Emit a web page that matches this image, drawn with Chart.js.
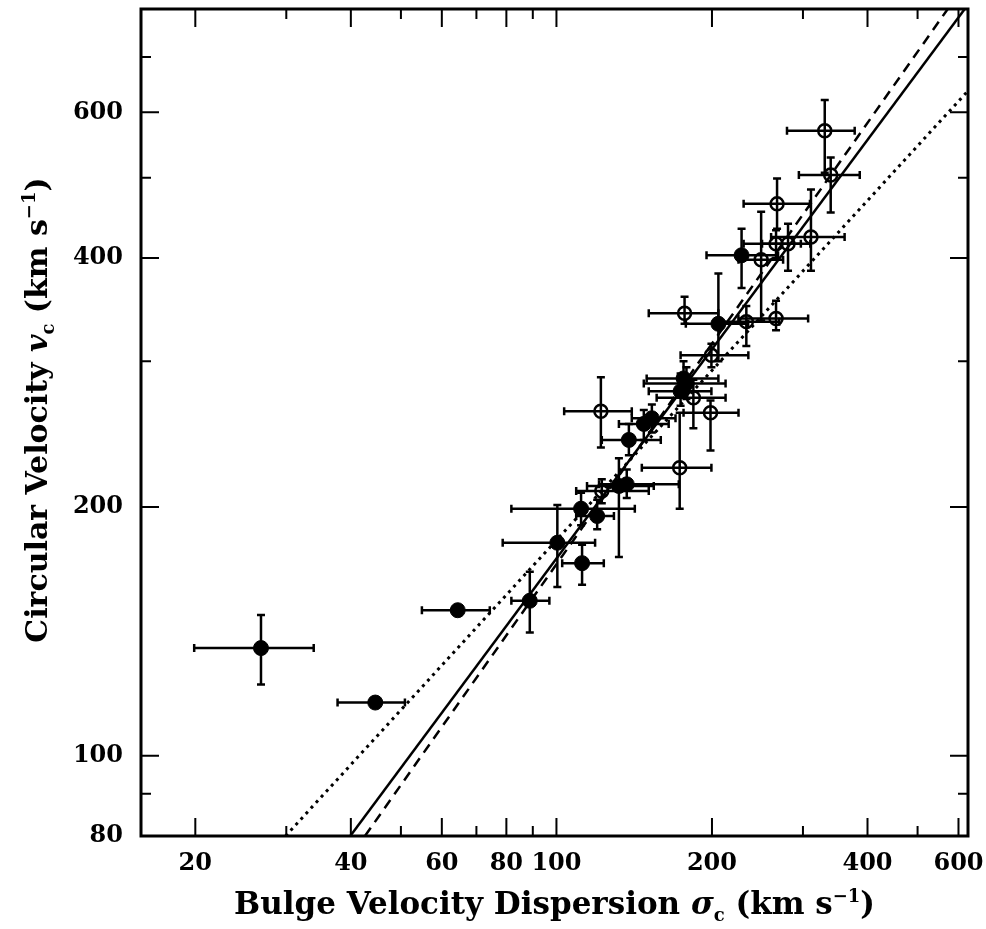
<!DOCTYPE html>
<html lang="en">
<head>
<meta charset="UTF-8">
<title>Circular Velocity vs Bulge Velocity Dispersion</title>
<script src="https://cdn.jsdelivr.net/npm/chart.js"></script>
<style>
  html, body { margin: 0; padding: 0; background: #fff; }
</style>
</head>
<body>
<canvas id="vcChart" width="986" height="929"></canvas>
<script>
// filled circles: sigma, v_c and their error bar ends (km/s)
var filledSigma   = [26.8, 44.6, 64.4, 88.8, 100.4, 112.1, 111.6, 119.9, 132.1, 136.8, 138.1, 147.6, 153.0, 176.2, 178.5, 173.9, 205.8, 228.2];
var filledV       = [135, 116, 150, 154, 181, 171, 199, 195, 212, 213, 241, 252, 256, 286, 282, 276, 333, 403];
var filledSigmaLo = [19.9, 37.7, 54.9, 81.8, 78.7, 102.6, 81.8, 109.2, 114.6, 120.9, 122.4, 132.1, 139.9, 149.5, 147.6, 150.9, 178, 195.2];
var filledSigmaHi = [33.9, 50.9, 74.3, 96.9, 118.8, 123.5, 141.8, 129.2, 154.3, 172.5, 159.2, 164.9, 170, 205.8, 212.5, 199.5, 235, 268.5];
var filledVLo     = [122, null, null, 141, 160, 161, 190, 188, 174, 205, 231, 241, 246, 274, 270, 265, 300, 368];
var filledVHi     = [148, null, null, 167, 201, 180, 208, 204, 229, 222, 252, 262, 266, 300, 295, 290, 383, 434];

// open circles
var openSigma   = [330.6, 339.5, 267.3, 310.9, 266.1, 280.7, 249.0, 177.0, 233.1, 266.1, 199.5, 184.1, 198.7, 121.9, 173.2, 122.4];
var openV       = [570, 504, 465, 424, 416, 416, 398, 343, 335, 338, 305, 271, 260, 261, 223, 209];
var openSigmaLo = [279.4, 294.6, 230.3, 260.3, 230.3, 250, 225.1, 150.9, 205, 225, 173.9, 156.3, 176.2, 103.5, 146.3, 109.2];
var openSigmaHi = [377.8, 386.4, 309.5, 361.2, 297.2, 310, 274.6, 205.8, 270, 307, 235.2, 212.5, 225.1, 139.9, 199.5, 150.9];
var openVLo     = [507, 454, 434, 386, 400, 386, 336, 333, 313, 327, 295, 249, 234, 236, 199, 202];
var openVHi     = [621, 529, 499, 484, 432, 440, 455, 359, 350, 355, 315, 285, 269, 287, 260, 216];

// fitted relations, read where they cross the frame
var solidFitSigma  = [39.9, 617];
var solidFitV      = [80, 800];
var dashedFitSigma = [42.6, 572];
var dashedFitV     = [80, 800];
var dottedFitSigma = [29.9, 626];
var dottedFitV     = [80, 637];

// axes
var xTickValues = [20, 30, 40, 50, 60, 70, 80, 90, 100, 200, 300, 400, 500, 600];
var xTickLabels = [20, 40, 60, 80, 100, 200, 400, 600];
var yTickValues = [80, 90, 100, 200, 300, 400, 500, 600, 700];
var yTickLabels = [80, 100, 200, 400, 600];

var serif = "'DejaVu Serif', 'Liberation Serif', serif";

function pts(xs, ys) {
    return xs.map(function(x, i) { return { x: x, y: ys[i] }; });
}

function drawRich(ctx, parts, cx, cy) {
    var total = 0;
    parts.forEach(function(p) {
        ctx.font = p.font;
        p.w = ctx.measureText(p.text).width;
        total += p.w;
    });
    var x = cx - total / 2;
    ctx.textAlign = 'left';
    ctx.textBaseline = 'alphabetic';
    parts.forEach(function(p) {
        ctx.font = p.font;
        ctx.fillText(p.text, x, cy + (p.dy || 0));
        x += p.w;
    });
}

var errorBars = {
    id: 'errorBars',
    beforeDatasetsDraw: function(chart) {
        var ctx = chart.ctx, xs = chart.scales.x, ys = chart.scales.y, a = chart.chartArea;
        var cap = 4;
        ctx.save();
        ctx.beginPath();
        ctx.rect(a.left, a.top, a.right - a.left, a.bottom - a.top);
        ctx.clip();
        ctx.strokeStyle = '#000';
        ctx.lineWidth = 2.5;
        [[filledSigma, filledV, filledSigmaLo, filledSigmaHi, filledVLo, filledVHi],
         [openSigma, openV, openSigmaLo, openSigmaHi, openVLo, openVHi]].forEach(function(s) {
            s[0].forEach(function(sig, i) {
                var px = xs.getPixelForValue(sig), py = ys.getPixelForValue(s[1][i]);
                ctx.beginPath();
                if (s[2][i] != null) {
                    var x1 = xs.getPixelForValue(s[2][i]), x2 = xs.getPixelForValue(s[3][i]);
                    ctx.moveTo(x1, py); ctx.lineTo(x2, py);
                    ctx.moveTo(x1, py - cap); ctx.lineTo(x1, py + cap);
                    ctx.moveTo(x2, py - cap); ctx.lineTo(x2, py + cap);
                }
                if (s[4][i] != null) {
                    var y1 = ys.getPixelForValue(s[4][i]), y2 = ys.getPixelForValue(s[5][i]);
                    ctx.moveTo(px, y1); ctx.lineTo(px, y2);
                    ctx.moveTo(px - cap, y1); ctx.lineTo(px + cap, y1);
                    ctx.moveTo(px - cap, y2); ctx.lineTo(px + cap, y2);
                }
                ctx.stroke();
            });
        });
        ctx.restore();
    }
};

var frame = {
    id: 'frame',
    afterDraw: function(chart) {
        var ctx = chart.ctx, xs = chart.scales.x, ys = chart.scales.y, a = chart.chartArea;
        ctx.save();
        ctx.strokeStyle = '#000';
        ctx.fillStyle = '#000';
        ctx.lineWidth = 2;
        ctx.beginPath();
        xTickValues.forEach(function(v) {
            var px = xs.getPixelForValue(v);
            var len = xTickLabels.indexOf(v) >= 0 ? 18 : 10;
            ctx.moveTo(px, a.bottom); ctx.lineTo(px, a.bottom - len);
            ctx.moveTo(px, a.top); ctx.lineTo(px, a.top + len);
        });
        yTickValues.forEach(function(v) {
            var py = ys.getPixelForValue(v);
            var len = yTickLabels.indexOf(v) >= 0 ? 18 : 10;
            ctx.moveTo(a.left, py); ctx.lineTo(a.left + len, py);
            ctx.moveTo(a.right, py); ctx.lineTo(a.right - len, py);
        });
        ctx.stroke();
        ctx.lineWidth = 3;
        ctx.strokeRect(a.left, a.top, a.right - a.left, a.bottom - a.top);

        var big = 'bold 31px ' + serif, it = 'italic bold 31px ' + serif, small = 'bold 18px ' + serif;
        drawRich(ctx, [
            { text: 'Bulge Velocity Dispersion ', font: big },
            { text: '\u03c3', font: it },
            { text: 'c', font: small, dy: 7 },
            { text: ' (km s', font: big },
            { text: '\u22121', font: small, dy: -12 },
            { text: ')', font: big }
        ], (a.left + a.right) / 2, 914);

        var bigY = 'bold 30px ' + serif, itY = 'italic bold 30px ' + serif, smallY = 'bold 18px ' + serif;
        ctx.translate(47, 410);
        ctx.rotate(-Math.PI / 2);
        drawRich(ctx, [
            { text: 'Circular Velocity ', font: bigY },
            { text: 'v', font: itY },
            { text: 'c', font: smallY, dy: 7 },
            { text: ' (km s', font: bigY },
            { text: '\u22121', font: smallY, dy: -12 },
            { text: ')', font: bigY }
        ], 0, 0);
        ctx.restore();
    }
};

var tickFont = { family: serif, weight: 'bold', size: 24 };

new Chart(document.getElementById('vcChart').getContext('2d'), {
    type: 'scatter',
    data: {
        datasets: [{
            label: 'filled',
            data: pts(filledSigma, filledV),
            pointRadius: 7.5,
            pointBackgroundColor: '#000',
            pointBorderColor: '#000',
            pointBorderWidth: 1
        }, {
            label: 'open',
            data: pts(openSigma, openV),
            pointRadius: 6.5,
            pointBackgroundColor: 'rgba(0,0,0,0)',
            pointBorderColor: '#000',
            pointBorderWidth: 2.5
        }, {
            label: 'fit',
            data: pts(solidFitSigma, solidFitV),
            showLine: true,
            pointRadius: 0,
            borderColor: '#000',
            borderWidth: 2.5
        }, {
            label: 'fit dashed',
            data: pts(dashedFitSigma, dashedFitV),
            showLine: true,
            pointRadius: 0,
            borderColor: '#000',
            borderWidth: 2.5,
            borderDash: [10, 7]
        }, {
            label: 'fit dotted',
            data: pts(dottedFitSigma, dottedFitV),
            showLine: true,
            pointRadius: 0,
            borderColor: '#000',
            borderWidth: 3,
            borderDash: [3, 4.5]
        }]
    },
    options: {
        responsive: false,
        animation: false,
        devicePixelRatio: 1,
        layout: { padding: { top: 8, right: 18, left: 0, bottom: 0 } },
        plugins: { legend: { display: false }, tooltip: { enabled: false } },
        scales: {
            x: {
                type: 'logarithmic',
                min: 15.7,
                max: 626,
                afterBuildTicks: function(s) { s.ticks = xTickValues.map(function(v) { return { value: v }; }); },
                afterFit: function(s) { s.height = 93; s.paddingLeft = 0; s.paddingRight = 0; },
                grid: { display: false, drawTicks: false },
                border: { display: false },
                ticks: {
                    autoSkip: false, maxRotation: 0, minRotation: 0, padding: 13,
                    color: '#000', font: tickFont,
                    callback: function(v) { return xTickLabels.indexOf(v) >= 0 ? String(v) : ''; }
                }
            },
            y: {
                type: 'logarithmic',
                min: 80,
                max: 800,
                afterBuildTicks: function(s) { s.ticks = yTickValues.map(function(v) { return { value: v }; }); },
                afterFit: function(s) { s.width = 141; s.paddingTop = 0; s.paddingBottom = 0; },
                grid: { display: false, drawTicks: false },
                border: { display: false },
                ticks: {
                    autoSkip: false, padding: 18,
                    color: '#000', font: tickFont,
                    callback: function(v) { return yTickLabels.indexOf(v) >= 0 ? String(v) : ''; }
                }
            }
        }
    },
    plugins: [errorBars, frame]
});
</script>
</body>
</html>
